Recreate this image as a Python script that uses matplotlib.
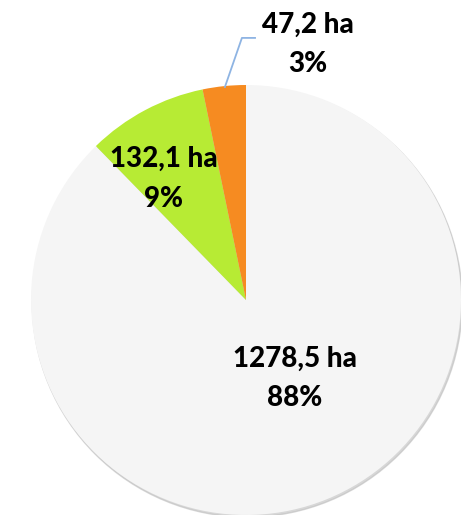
import matplotlib
matplotlib.use("Agg")
import matplotlib.pyplot as plt
from matplotlib.patches import Circle

# land area per category, hectares
areas = [1278.5, 132.1, 47.2]
area_labels = ["1278,5 ha", "132,1 ha", "47,2 ha"]
pct_labels = ["88%", "9%", "3%"]
colors = ["#F5F5F5", "#B7EB34", "#F68B21"]

plt.rcParams["font.family"] = ["Lato", "DejaVu Sans"]

fig = plt.figure(figsize=(4.64, 5.16), dpi=100)
ax = fig.add_axes([31 / 464, 1 / 516, 430 / 464, 430 / 516])

# soft drop shadow under the pie
shadow = Circle((0.006, -0.010), 1.0, color="#BDBDBD", alpha=0.6, zorder=0)
ax.add_patch(shadow)

wedges, _ = ax.pie(areas, colors=colors, startangle=90, counterclock=False,
                   radius=1.0, wedgeprops=dict(linewidth=0))
for w in wedges:
    w.set_zorder(1)

# label anchors in data units (pie radius = 1): x centre, baselines of the two lines
label_x = [0.228, -0.382, 0.286]
label_base1 = [-0.312, 0.619, 1.242]
label_base2 = [-0.493, 0.433, 1.060]
for x, y1, y2, a, p in zip(label_x, label_base1, label_base2, area_labels, pct_labels):
    ax.text(x, y1, a, ha="center", va="baseline", fontsize=20,
            fontweight="black", color="black", zorder=3)
    ax.text(x, y2, p, ha="center", va="baseline", fontsize=20,
            fontweight="black", color="black", zorder=3)

# leader line for the small slice
ax.plot([-0.098, -0.019, 0.042], [0.991, 1.219, 1.219], color="#8EB4E3",
        linewidth=1.3, clip_on=False, zorder=2)

ax.set_xlim(-1, 1)
ax.set_ylim(-1, 1)
ax.set_aspect("equal")
ax.axis("off")

fig.savefig("out.png", dpi=100)
